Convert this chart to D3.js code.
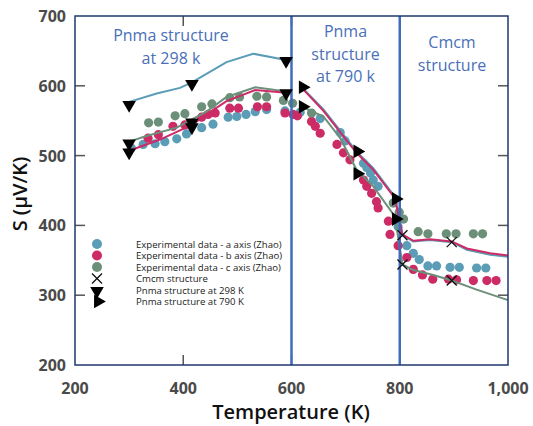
<!DOCTYPE html>
<html><head><meta charset="utf-8">
<script src="https://cdn.jsdelivr.net/npm/d3@7/dist/d3.min.js"></script>
<style>
body{margin:0;background:#fff;}
text{font-family:"Open Sans","Noto Sans",sans-serif;}
</style></head>
<body><svg id="c" width="533" height="426"></svg>
<script>
// ---------- data ----------
const xTicks = [200,400,600,800,1000];
const yTicks = [200,300,400,500,600,700];
const phaseBounds = [600,800];

const expA = [[304,511],[326,516],[348,517],[366,520],[388,524],[406,531],[434,540],[455,545],[483,555],[499,556],[516,559],[533,563],[554,566],[588,564],[616,562],[653,553],[690,533],[699,521],[733,489],[739,483],[746,475],[751,465],[760,456],[797,398],[813,371],[825,360],[836,351],[852,342],[868,342],[893,340],[910,340],[942,339],[959,339]];
const expB = [[335,525],[354,530],[381,542],[403,544],[434,555],[446,559],[459,561],[486,568],[502,568],[537,570],[554,570],[588,561],[603,559],[611,557],[637,549],[644,542],[653,532],[684,516],[696,504],[708,494],[733,465],[739,456],[748,446],[757,434],[760,425],[779,406],[782,387],[797,371],[813,354],[825,337],[842,329],[861,323],[890,323],[905,322],[936,321],[961,321],[978,321]];
const expC = [[336,547],[354,548],[385,557],[403,560],[434,570],[453,574],[486,583],[504,584],[536,585],[554,584],[585,579],[602,575],[637,561],[788,432],[799,419],[807,409],[834,391],[852,388],[886,388],[904,388],[936,388],[953,388]];

const pnma298A = [[300,577],[351,589],[394,597],[416,605],[480,634],[529,646],[590,637]];
const pnma298B = [[300,507],[357,523],[416,544],[443,559],[480,578],[533,594],[590,590]];
const pnma298C = [[300,520],[332,528],[388,540],[416,552],[443,563],[480,584],[533,598],[590,592]];

const highA = [[619,598],[659,566],[720,506],[751,482],[791,441],[805,386],[825,377],[856,379],[896,376],[924,365],[967,358],[1000,355]];
const highB = [[619,597],[659,564],[720,504],[751,480],[791,439],[805,387],[825,378],[856,380],[896,377],[924,367],[967,360],[1000,357]];
const highC = [[619,570],[659,556],[690,525],[720,480],[751,456],[791,413],[805,344],[825,336],[862,329],[896,321],[942,308],[1000,293]];

const mark298 = [[300,574],[300,519],[300,506],[416,604],[416,549],[416,542],[590,637],[590,591]];
const mark790 = [[619,598],[619,570],[720,506],[720,474],[791,438],[791,409]];
const markCmcm = [[805,386],[805,344],[896,376],[896,321]];

const legendLabels = ["Experimental data - a axis (Zhao)","Experimental data - b axis (Zhao)","Experimental data - c axis (Zhao)","Cmcm structure","Pnma structure at 298 K","Pnma structure at 790 K"];
const regionLabels = [
  {t:450, lines:["Pnma structure","at 298 k"]},
  {t:700, lines:["Pnma","structure","at 790 k"]},
  {t:900, lines:["Cmcm","structure"]}
];

// ---------- drawing ----------
const colA="#5b9cb6", colB="#cc2b66", colC="#6c8f79";
const svg = d3.select("#c");
const x = d3.scaleLinear().domain([200,1000]).range([75,508]);
const y = d3.scaleLinear().domain([200,700]).range([365,16]);
const frame="#22386e", tickCol="#555", blue="#3f6cbc";

// inner ticks
const tickG = svg.append("g").attr("stroke",tickCol).attr("stroke-width",1.5);
xTicks.slice(1,-1).forEach(t=>{
  tickG.append("line").attr("x1",x(t)).attr("x2",x(t)).attr("y1",y(200)).attr("y2",y(200)-10);
  tickG.append("line").attr("x1",x(t)).attr("x2",x(t)).attr("y1",y(700)).attr("y2",y(700)+10);
});
yTicks.slice(1,-1).forEach(t=>{
  tickG.append("line").attr("x1",x(200)).attr("x2",x(200)+10).attr("y1",y(t)).attr("y2",y(t));
  tickG.append("line").attr("x1",x(1000)).attr("x2",x(1000)-10).attr("y1",y(t)).attr("y2",y(t));
});

// tick labels
svg.append("g").selectAll("text").data(xTicks).join("text")
  .attr("x",d=>x(d)).attr("y",394).attr("text-anchor","middle")
  .attr("font-size",16).attr("font-weight",700).attr("fill","#4a4a4a")
  .text(d=>d3.format(",")(d));
svg.append("g").selectAll("text").data(yTicks).join("text")
  .attr("x",66).attr("y",d=>y(d)+6).attr("text-anchor","end")
  .attr("font-size",16).attr("font-weight",700).attr("fill","#4a4a4a")
  .text(d=>d);

// axis titles
svg.append("text").attr("x",291).attr("y",419).attr("text-anchor","middle")
  .attr("font-size",20).attr("font-weight",600).attr("fill","#111").text("Temperature (K)");
svg.append("text").attr("transform","translate(27,194) rotate(-90)").attr("text-anchor","middle")
  .attr("font-size",20).attr("font-weight",600).attr("fill","#111").text("S (μV/K)");

// experimental dots
const dotG = svg.append("g");
[[expA,colA],[expB,colB],[expC,colC]].forEach(([d,c])=>{
  dotG.append("g").selectAll("circle").data(d).join("circle")
    .attr("cx",p=>x(p[0])).attr("cy",p=>y(p[1])).attr("r",4.6).attr("fill",c);
});

// model lines
const line = d3.line().x(p=>x(p[0])).y(p=>y(p[1]));
[[pnma298A,colA],[pnma298C,colC],[pnma298B,colB],[highA,colA],[highC,colC],[highB,colB]].forEach(([d,c])=>{
  svg.append("path").attr("d",line(d)).attr("fill","none").attr("stroke",c).attr("stroke-width",2);
});

// phase boundaries
phaseBounds.forEach(t=>{
  svg.append("line").attr("x1",x(t)).attr("x2",x(t)).attr("y1",y(700)).attr("y2",y(200))
    .attr("stroke",blue).attr("stroke-width",2.5);
});

// frame
svg.append("rect").attr("x",x(200)).attr("y",y(700)).attr("width",x(1000)-x(200)).attr("height",y(200)-y(700))
  .attr("fill","none").attr("stroke",frame).attr("stroke-width",1.5);

// markers
const triDown = d3.symbol().type(d3.symbolTriangle).size(80);
const mG = svg.append("g");
mG.selectAll(".td").data(mark298).join("path")
  .attr("d",triDown()).attr("transform",p=>`translate(${x(p[0])},${y(p[1])+1}) rotate(180)`).attr("fill","#000");
mG.selectAll(".tr").data(mark790).join("path")
  .attr("d",triDown()).attr("transform",p=>`translate(${x(p[0])+1},${y(p[1])}) rotate(90)`).attr("fill","#000");
const cross = (g,cx,cy,s)=>{
  g.append("path").attr("d",`M${cx-s},${cy-s}L${cx+s},${cy+s}M${cx-s},${cy+s}L${cx+s},${cy-s}`)
   .attr("stroke","#111").attr("stroke-width",1.3).attr("fill","none");
};
markCmcm.forEach(p=>cross(mG,x(p[0]),y(p[1]),5));

// region labels
const rl = svg.append("g").attr("fill","#4a6fb8").attr("font-size",16).attr("text-anchor","middle");
const baseY = [41,37,48];
const cx = [171,345.5,452];
regionLabels.forEach((r,i)=>{
  r.lines.forEach((s,j)=>{
    rl.append("text").attr("x",cx[i]).attr("y",baseY[i]+j*22.5).text(s);
  });
});

// legend
const lg = svg.append("g");
const lgY = i=>244+i*11.5;
[colA,colB,colC].forEach((c,i)=>lg.append("circle").attr("cx",97).attr("cy",lgY(i)).attr("r",5).attr("fill",c));
cross(lg,97,lgY(3),5);
lg.append("path").attr("d",triDown()).attr("transform",`translate(97,${lgY(4)+1}) rotate(180)`).attr("fill","#000");
lg.append("path").attr("d",triDown()).attr("transform",`translate(98,${lgY(5)}) rotate(90)`).attr("fill","#000");
lg.selectAll("text").data(legendLabels).join("text")
  .attr("x",136).attr("y",(d,i)=>lgY(i)+3.5).attr("font-size",9.6).attr("fill","#222").text(d=>d);
</script>
</body></html>
